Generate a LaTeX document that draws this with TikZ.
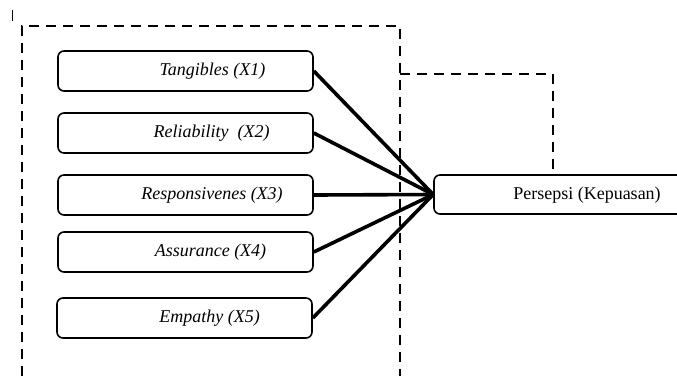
\documentclass[tikz,border=0pt]{standalone}
\usepackage{fontspec}
\setmainfont{Liberation Serif}
\usepackage{amsmath,amssymb}

\begin{document}
\begin{tikzpicture}[
		x=1pt,y=-1pt,
		every node/.style={font=\fontsize{18}{21}\selectfont},
		varbox/.style={draw,rounded corners=6pt,line width=1.6pt,minimum width=255pt,minimum height=40pt,inner sep=0pt},
		vartext/.style={font=\fontsize{18}{21}\selectfont\itshape,inner sep=0pt},
		conn/.style={line width=3.6pt},
		dashbox/.style={line width=2.8pt,dash pattern=on 10pt off 7pt}
		]
		\useasboundingbox (0,0) rectangle (677,376);
		% dependent variable
		\node[varbox,minimum width=256pt,minimum height=39pt] (y) at (562,194.5) {};
		\node[inner sep=0pt] (ty) at (587,195) {Persepsi (Kepuasan)};
		% service quality
		\node[varbox] (x1) at (185.5,71) {};
		\node[varbox] (x2) at (185.5,133) {};
		\node[varbox] (x3) at (185.5,195) {};
		\node[varbox] (x4) at (185.5,252) {};
		\node[varbox] (x5) at (184.5,318) {};
		\node[vartext] (t1) at ([xshift=27pt]x1.center) {Tangibles (X1)};
		\node[vartext] (t2) at ([xshift=26pt]x2.center) {Reliability~ (X2)};
		\node[vartext] (t3) at ([xshift=26.5pt]x3.center) {Responsivenes (X3)};
		\node[vartext] (t4) at ([xshift=25pt]x4.center) {Assurance (X4)};
		\node[vartext] (t5) at ([xshift=25pt]x5.center) {Empathy (X5)};
		\foreach \i in {1,...,5}
			\draw[conn] (x\i.east) -- (y.west);
		% frames
		\coordinate (c1) at (553,74);
		\draw[dashbox] (22,376) -- (22,26) -- (400,26) -- (400,376);
		\draw[dashbox] (400,74) -- (c1) -- (c1 |- y.north);
		\draw[line width=1pt] (12,10) -- (12,21);
\end{tikzpicture}
\end{document}
